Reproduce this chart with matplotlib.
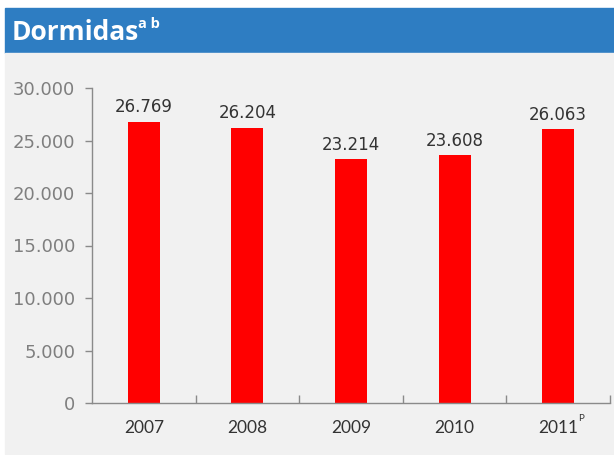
import matplotlib
matplotlib.use("Agg")
import matplotlib.pyplot as plt
from matplotlib.patches import Rectangle
from matplotlib.ticker import FixedLocator, FuncFormatter

# dados
years = ["2007", "2008", "2009", "2010", "2011"]
dormidas = [26769, 26204, 23214, 23608, 26063]
yticks = [0, 5000, 10000, 15000, 20000, 25000, 30000]

BLUE = "#2E7DC2"
PANEL = "#F1F1F1"
RED = "#FF0000"
AXIS = "#8A8A8A"
INK = "#333333"

W, H = 614, 455
fig = plt.figure(figsize=(W / 100, H / 100), dpi=100)
fig.patch.set_facecolor("white")

# fundo: faixa azul + painel cinza
bg = fig.add_axes([0, 0, 1, 1])
bg.set_xlim(0, W)
bg.set_ylim(H, 0)
bg.axis("off")
bg.add_patch(Rectangle((5, 8), W - 5, 45, color=BLUE))
bg.add_patch(Rectangle((5, 53), W - 5, 401, color=PANEL))
bg.text(12, 33, "Dormidas", fontsize=19, fontweight="bold", color="white",
        family="Open Sans", ha="left", va="center")
bg.text(138, 24, "a b", fontsize=10.5, fontweight="bold", color="white",
        family="Open Sans", ha="left", va="center")

def fmt(v):
    return f"{int(v):,}".replace(",", ".")

ax = fig.add_axes([92 / W, 1 - 403 / H, 518 / W, 315 / H])
ax.set_facecolor("none")
x = range(len(years))
bars = ax.bar(x, dormidas, width=0.31, color=RED, zorder=2)
ax.set_xlim(-0.5, len(years) - 0.5)
ax.set_ylim(0, 30000)

for b, v in zip(bars, dormidas):
    ax.annotate(fmt(v), (b.get_x() + b.get_width() / 2, v),
                xytext=(0, 4), textcoords="offset points",
                ha="center", va="bottom", fontsize=12, color=INK,
                family="DejaVu Sans")

ax.set_yticks(yticks)
ax.yaxis.set_major_formatter(FuncFormatter(lambda v, p: fmt(v)))
ax.tick_params(axis="y", direction="out", length=5, width=1, color=AXIS,
               labelsize=13, labelcolor="#7F7F7F", pad=7)

ax.set_xticks(list(x))
ax.set_xticklabels(years, family="Lato", fontsize=12.5, color=INK)
ax.tick_params(axis="x", which="major", length=0, pad=12)
ax.xaxis.set_minor_locator(FixedLocator([i + 0.5 for i in x]))
ax.tick_params(axis="x", which="minor", direction="in", length=6,
               width=1, color=AXIS)
# 2011 provisório
ax.annotate("P", xy=(len(years) - 1, 0), xycoords=("data", "axes fraction"),
            xytext=(14.5, -11), textcoords="offset points",
            ha="left", va="center", fontsize=7, color=INK, family="Lato")

for s in ("top", "right"):
    ax.spines[s].set_visible(False)
for s in ("left", "bottom"):
    ax.spines[s].set_color(AXIS)
    ax.spines[s].set_linewidth(1)

fig.savefig("out.png", dpi=100)
